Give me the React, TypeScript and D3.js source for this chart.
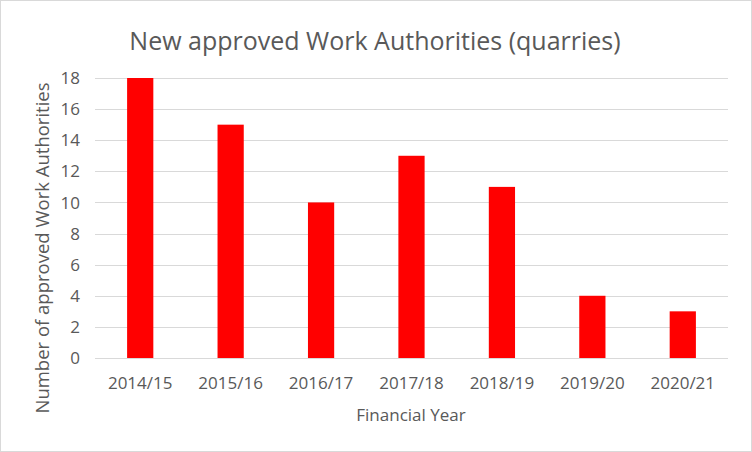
import { useEffect, useRef } from 'react';
import * as d3 from 'd3';

const years = ['2014/15', '2015/16', '2016/17', '2017/18', '2018/19', '2019/20', '2020/21'];
const approvals = [18, 15, 10, 13, 11, 4, 3];
const yTicks = [0, 2, 4, 6, 8, 10, 12, 14, 16, 18];

const W = 752;
const H = 452;
const FONT = "'Open Sans', 'Liberation Sans', sans-serif";
const TEXT = '#595959';
const GRID = '#d9d9d9';

export default function App() {
  const svgRef = useRef<SVGSVGElement | null>(null);

  useEffect(() => {
    if (!svgRef.current) return;
    const svg = d3.select(svgRef.current);
    svg.selectAll('*').remove();

    const plot = { left: 95, right: 728, top: 78, bottom: 358 };

    // chart background and border
    svg.append('rect')
      .attr('x', 0.5).attr('y', 0.5)
      .attr('width', W - 1).attr('height', H - 1)
      .style('fill', '#fff')
      .style('stroke', GRID);

    const x = d3.scaleBand<string>()
      .domain(years)
      .range([plot.left, plot.right])
      .paddingInner(0.71)
      .paddingOuter(0.355);

    const y = d3.scaleLinear()
      .domain([0, 18])
      .range([plot.bottom, plot.top]);

    // gridlines
    svg.append('g')
      .selectAll('line')
      .data(yTicks)
      .enter()
      .append('line')
      .attr('x1', plot.left)
      .attr('x2', plot.right)
      .attr('y1', d => Math.round(y(d)) + 0.5)
      .attr('y2', d => Math.round(y(d)) + 0.5)
      .style('stroke', GRID)
      .style('stroke-width', 1);

    // y tick labels
    svg.append('g')
      .selectAll('text')
      .data(yTicks)
      .enter()
      .append('text')
      .attr('x', 80)
      .attr('y', d => y(d))
      .attr('dy', '0.36em')
      .attr('text-anchor', 'end')
      .style('font-family', FONT)
      .style('font-size', '17px')
      .style('fill', TEXT)
      .text(d => d);

    // bars
    svg.append('g')
      .selectAll('rect')
      .data(approvals)
      .enter()
      .append('rect')
      .attr('x', (d, i) => x(years[i])!)
      .attr('y', d => y(d))
      .attr('width', x.bandwidth())
      .attr('height', d => y(0) - y(d))
      .style('fill', '#ff0000');

    // x tick labels
    svg.append('g')
      .selectAll('text')
      .data(years)
      .enter()
      .append('text')
      .attr('x', d => x(d)! + x.bandwidth() / 2)
      .attr('y', 389)
      .attr('text-anchor', 'middle')
      .style('font-family', FONT)
      .style('font-size', '17px')
      .style('fill', TEXT)
      .text(d => d);

    // title
    svg.append('text')
      .attr('x', 375)
      .attr('y', 50)
      .attr('text-anchor', 'middle')
      .style('font-family', FONT)
      .style('font-size', '25px')
      .style('fill', TEXT)
      .text('New approved Work Authorities (quarries)');

    // axis titles
    svg.append('text')
      .attr('x', 411)
      .attr('y', 421)
      .attr('text-anchor', 'middle')
      .style('font-family', FONT)
      .style('font-size', '17px')
      .style('fill', TEXT)
      .text('Financial Year');

    svg.append('text')
      .attr('transform', 'translate(49, 248) rotate(-90)')
      .attr('text-anchor', 'middle')
      .style('font-family', FONT)
      .style('font-size', '18.5px')
      .style('fill', TEXT)
      .text('Number of approved Work Authorities');
  }, []);

  return (
    <svg
      ref={svgRef}
      width={W}
      height={H}
      style={{ position: 'absolute', left: 0, top: 0 }}
    />
  );
}
